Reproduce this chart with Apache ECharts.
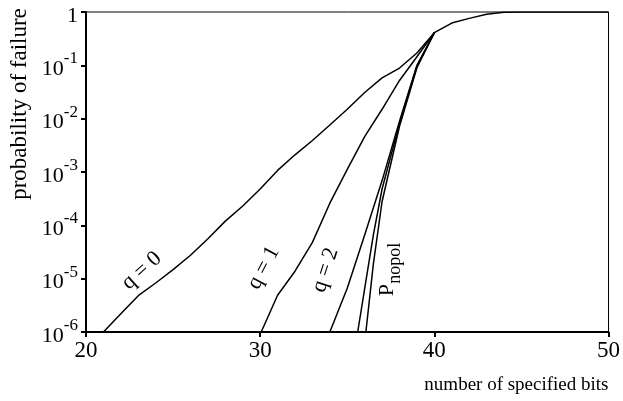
<!DOCTYPE html>
<html>
<head>
<meta charset="utf-8">
<script src="https://cdn.jsdelivr.net/npm/echarts@6/dist/echarts.min.js"></script>
<style>
  html, body { margin: 0; padding: 0; background: #fff; }
  #chart { width: 623px; height: 401px; }
</style>
</head>
<body>
<div id="chart"></div>
<script>
// x ticks and y decades
const bitsTicks = [20, 30, 40, 50];
const yExponents = [0, -1, -2, -3, -4, -5, -6];

// curves: [number of bits, probability]
const q0 = [[21, 1e-6], [22, 2.2e-6], [23, 4.8e-6], [24, 8.3e-6], [25, 1.48e-5], [26, 2.75e-5],
  [27, 5.6e-5], [28, 1.2e-4], [29, 2.3e-4], [30, 4.8e-4], [31, 1.07e-3], [32, 2.1e-3],
  [33, 3.9e-3], [34, 7.6e-3], [35, 0.015], [36, 0.031], [37, 0.058], [38, 0.089],
  [39, 0.17], [40, 0.41], [41, 0.62], [42, 0.76], [43, 0.91], [44, 0.99], [45, 1], [50, 1]];
const q1 = [[30.06, 1e-6], [31, 4.9e-6], [32, 1.38e-5], [33, 4.8e-5], [34, 2.6e-4], [35, 1.12e-3],
  [36, 4.6e-3], [37, 0.015], [38, 0.052], [39, 0.145], [40, 0.41]];
const q2 = [[34, 1e-6], [35, 6.6e-6], [36, 6.6e-5], [37, 6.9e-4], [38, 9.0e-3], [39, 0.10], [40, 0.41]];
const q3 = [[35.6, 1e-6], [36, 6.5e-6], [36.5, 6.6e-5], [37, 4.8e-4], [38, 8.1e-3], [39, 0.095], [40, 0.41]];
const pNopol = [[36.07, 1e-6], [36.5, 1.9e-5], [37, 2.8e-4], [38, 7.2e-3], [39, 0.09], [40, 0.41]];

// curve labels: text, anchor [bits, prob], angle in degrees, font size
const curveLabels = [
  ['q = 0', [23.2, 1.4e-5], 42, 22],
  ['q = 1', [30.2, 1.6e-5], 62, 22],
  ['q = 2', [33.75, 1.45e-5], 72, 22],
  ['P', [37.3, 6.1e-6], 90, 22],
  ['nopol', [37.78, 1.95e-5], 90, 18]
];

const font = 'Liberation Serif';
const chart = echarts.init(document.getElementById('chart'));

const lineSeries = (name, data) => ({
  name: name,
  type: 'line',
  data: data,
  showSymbol: false,
  symbol: 'none',
  clip: true,
  lineStyle: { color: '#000', width: 1.5 },
  z: 3
});

const option = {
  animation: false,
  backgroundColor: '#fff',
  grid: {
    left: 86, right: 10, top: 12, bottom: 69,
    show: true, borderColor: '#000', borderWidth: 1
  },
  xAxis: {
    type: 'value',
    min: bitsTicks[0],
    max: bitsTicks[bitsTicks.length - 1],
    interval: 10,
    name: 'number of specified bits',
    nameLocation: 'end',
    nameGap: 0,
    nameTextStyle: {
      fontFamily: font, fontSize: 19, color: '#000',
      align: 'right', verticalAlign: 'top', padding: [44, 0, 0, 0]
    },
    axisLine: { lineStyle: { color: '#000', width: 2 } },
    axisTick: { inside: false, length: 5, lineStyle: { color: '#000', width: 2 } },
    splitLine: { show: false },
    axisLabel: { fontFamily: font, fontSize: 23, color: '#000', margin: 7 }
  },
  yAxis: {
    type: 'log',
    logBase: 10,
    min: Math.pow(10, yExponents[yExponents.length - 1]),
    max: Math.pow(10, yExponents[0]),
    axisLine: { show: true, lineStyle: { color: '#000', width: 2 } },
    axisTick: { show: true, inside: false, length: 5, lineStyle: { color: '#000', width: 2 } },
    splitLine: { show: false },
    axisLabel: {
      margin: 8,
      formatter: function (v) {
        const e = Math.round(Math.log10(v));
        return e === 0 ? '{b|1}' : '{b|10}{e|' + e + '}';
      },
      rich: {
        b: { fontFamily: font, fontSize: 22, color: '#000', lineHeight: 30, verticalAlign: 'bottom' },
        e: { fontFamily: font, fontSize: 17, color: '#000', lineHeight: 17, verticalAlign: 'top' }
      }
    }
  },
  series: [
    lineSeries('q = 0', q0),
    lineSeries('q = 1', q1),
    lineSeries('q = 2', q2),
    lineSeries('q = 3', q3),
    lineSeries('Pnopol', pNopol)
  ]
};
chart.setOption(option);

// place text labels on the curves through the chart's own scales
const graphics = curveLabels.map(function (l) {
  const p = chart.convertToPixel({ gridIndex: 0 }, l[1]);
  return {
    type: 'text', x: p[0], y: p[1], rotation: l[2] * Math.PI / 180, z: 10,
    style: { text: l[0], fontFamily: font, fontSize: l[3], fill: '#000', align: 'center', verticalAlign: 'middle' }
  };
});
graphics.push({
  type: 'text', x: 20, y: 104, rotation: Math.PI / 2, z: 10,
  style: { text: 'probability of failure', fontFamily: font, fontSize: 23, fill: '#000', align: 'center', verticalAlign: 'middle' }
});
chart.setOption({ graphic: graphics });
</script>
</body>
</html>
